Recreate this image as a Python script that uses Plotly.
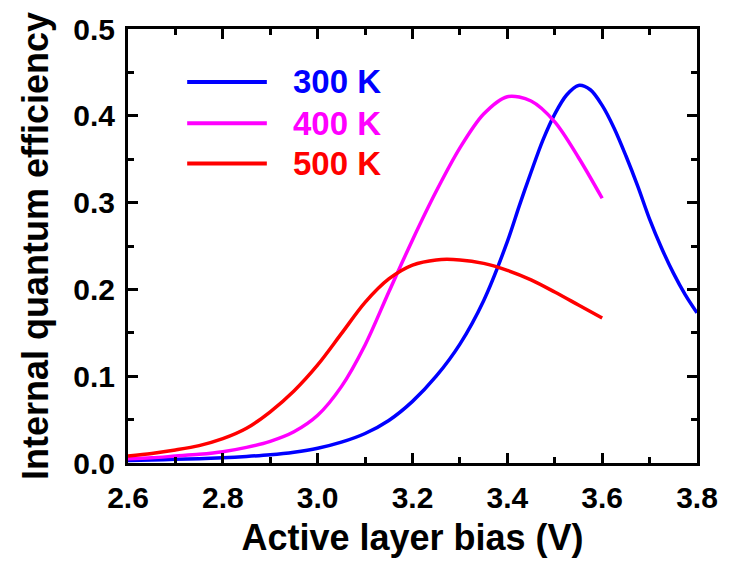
import plotly.graph_objects as go

# ---- data ----
bias_300 = [2.60, 2.65, 2.70, 2.75, 2.80, 2.85, 2.90, 2.95, 3.00, 3.05, 3.10, 3.15,
            3.20, 3.25, 3.30, 3.35, 3.40, 3.425, 3.45, 3.475,
            3.50, 3.525, 3.55, 3.575, 3.60, 3.625, 3.65, 3.675, 3.70, 3.725,
            3.75, 3.775, 3.80]
iqe_300 = [0.0030, 0.0035, 0.0042, 0.0050, 0.0060, 0.0075, 0.0095, 0.0125, 0.017, 0.024, 0.034, 0.049,
           0.071, 0.100, 0.137, 0.187, 0.255, 0.296, 0.335, 0.372,
           0.402, 0.424, 0.435, 0.430, 0.412, 0.386, 0.354, 0.319, 0.281, 0.248,
           0.219, 0.194, 0.173]

bias_400 = [2.60, 2.65, 2.70, 2.75, 2.80, 2.85, 2.90, 2.95, 3.00, 3.05, 3.10, 3.15,
            3.20, 3.25, 3.30, 3.35, 3.40, 3.45, 3.50, 3.55, 3.60]
iqe_400 = [0.005, 0.006, 0.008, 0.010, 0.013, 0.018, 0.025, 0.036, 0.055, 0.088, 0.136, 0.197,
           0.257, 0.313, 0.363, 0.402, 0.422, 0.417, 0.393, 0.352, 0.305]

bias_500 = [2.60, 2.65, 2.70, 2.75, 2.80, 2.85, 2.90, 2.95, 3.00, 3.05, 3.10, 3.15,
            3.20, 3.25, 3.30, 3.35, 3.40, 3.45, 3.50, 3.55, 3.60]
iqe_500 = [0.008, 0.011, 0.015, 0.020, 0.028, 0.040, 0.059, 0.083, 0.113, 0.149, 0.185, 0.212,
           0.228, 0.234, 0.234, 0.230, 0.222, 0.211, 0.197, 0.182, 0.167]

series_names = ["300 K", "400 K", "500 K"]
series_colors = ["#0000FF", "#FF00FF", "#FF0000"]

x_title = "Active layer bias (V)"
y_title = "Internal quantum efficiency"

FONT = "Liberation Sans, Arial, Helvetica, sans-serif"

fig = go.Figure()
for xs, ys, name, color in zip([bias_300, bias_400, bias_500],
                               [iqe_300, iqe_400, iqe_500],
                               series_names, series_colors):
    fig.add_trace(go.Scatter(x=xs, y=ys, mode="lines", name=name,
                             line=dict(color=color, width=3.5, shape="spline", smoothing=0.9),
                             showlegend=False, cliponaxis=True))

# manual legend (long line samples, coloured text)
legend_y = [0.878, 0.783, 0.690]
for name, color, ly in zip(series_names, series_colors, legend_y):
    fig.add_shape(type="line", xref="paper", yref="paper",
                  x0=0.104, x1=0.244, y0=ly, y1=ly,
                  line=dict(color=color, width=4))
    fig.add_annotation(xref="paper", yref="paper", x=0.287, y=ly,
                       text=name, showarrow=False, xanchor="left", yanchor="middle",
                       font=dict(family=FONT, size=33, color=color, weight="bold"))

axis_common = dict(
    showline=True, linecolor="black", linewidth=3, mirror="allticks",
    ticks="inside", ticklen=10, tickwidth=3, tickcolor="black",
    showgrid=False, zeroline=False,
    tickfont=dict(family=FONT, size=30, color="black", weight="bold"),
    tickformat=".1f",
)

fig.update_xaxes(range=[2.6, 3.8], dtick=0.2, tick0=2.6,
                 minor=dict(dtick=0.1, ticks="inside", ticklen=6, tickwidth=3, tickcolor="black"),
                 title=dict(text=x_title, standoff=12,
                            font=dict(family=FONT, size=36, color="black", weight="bold")),
                 ticklabelstandoff=6,
                 **axis_common)
fig.update_yaxes(range=[0, 0.5], dtick=0.1, tick0=0,
                 minor=dict(dtick=0.05, ticks="inside", ticklen=6, tickwidth=3, tickcolor="black"),
                 title=dict(text=y_title, standoff=14,
                            font=dict(family=FONT, size=36, color="black", weight="bold")),
                 ticklabelstandoff=4,
                 **axis_common)

fig.update_layout(width=730, height=563,
                  margin=dict(l=128, r=31, t=27, b=94),
                  paper_bgcolor="white", plot_bgcolor="white")

fig.write_html("out.html")
